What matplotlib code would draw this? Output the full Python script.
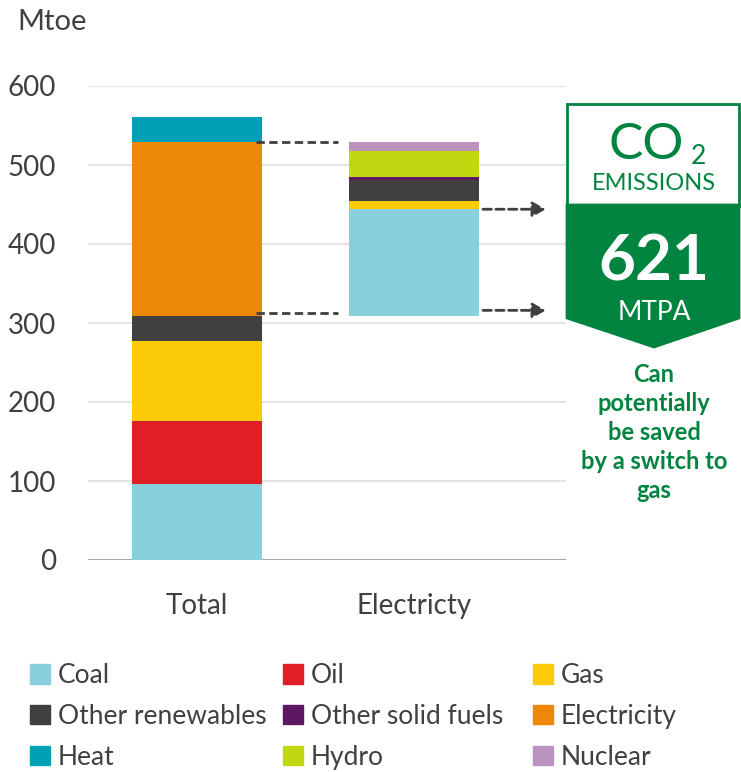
import matplotlib.pyplot as plt
from matplotlib.patches import Patch, Polygon, Rectangle

plt.rcParams['font.family'] = ['Lato', 'DejaVu Sans']

# data (Mtoe)
categories = ["Total", "Electricty"]
fuels = ["Coal", "Oil", "Gas",
         "Other renewables", "Other solid fuels", "Electricity",
         "Heat", "Hydro", "Nuclear"]
total = [96, 80, 101, 32, 0, 220, 32, 0, 0]
electricity = [135, 0, 10, 27, 4, 0, 0, 33, 11]
colors = ["#8acfdc", "#e01e25", "#fbcb07",
          "#404040", "#5e1862", "#ec8805",
          "#019fb5", "#c0d711", "#bb93be"]
co2_saved = 621
co2_lines = ["Can", "potentially", "be saved", "by a switch to", "gas"]

TEXT = "#404040"
GREEN = "#00843f"

W, H = 741, 772
fig = plt.figure(figsize=(W / 100, H / 100), dpi=100)
ax = fig.add_axes([88 / W, 212 / H, 478 / W, 474 / H])

# electricity bar floats on top of the non-electricity part of the total
elec_idx = fuels.index("Electricity")
offset = sum(total[:elec_idx])

x = [0, 1]
bt, be = 0, offset
for name, c, vt, ve in zip(fuels, colors, total, electricity):
    ax.bar(x[0], vt, 0.6, bottom=bt, color=c, zorder=2)
    ax.bar(x[1], ve, 0.6, bottom=be, color=c, zorder=2)
    bt += vt
    be += ve

# dashed connectors and arrows
top = offset + total[elec_idx]
for y in (top, offset + 4):
    ax.plot([0.27, 0.65], [y, y], ls=(0, (3, 1.6)), color=TEXT, lw=2, zorder=3)
for y in (offset + electricity[0], offset + 7):
    ax.annotate("", xy=(1.62, y), xytext=(1.305, y),
                arrowprops=dict(arrowstyle="-|>,head_length=0.8,head_width=0.45",
                                ls=(0, (3, 1.6)), lw=2, color=TEXT),
                zorder=3, annotation_clip=False)

ax.set_xlim(-0.502, 1.70)
ax.set_ylim(0, 600)
ax.set_yticks(range(0, 601, 100))
ax.set_xticks(x)
ax.set_xticklabels(categories)
ax.yaxis.grid(True, color="#e4e4e4", lw=1.5)
ax.set_axisbelow(True)
ax.axhline(0, color="#a8a8a8", lw=1.5, zorder=1)
for s in ax.spines.values():
    s.set_visible(False)
ax.tick_params(length=0, labelsize=20, labelcolor=TEXT)
ax.tick_params(axis="y", pad=23)
ax.tick_params(axis="x", pad=24)

fig.text(17 / W, 1 - 22 / H, "Mtoe", fontsize=21, color=TEXT, va="center")

# legend: three fixed-position columns, row-major order like the original
handles = [Patch(color=c, label=f) for f, c in zip(fuels, colors)]
for col, left in enumerate([30, 283, 533]):
    fig.legend(handles=handles[col::3], ncol=1, loc="upper left",
               bbox_to_anchor=(left / W, 1 - 663 / H), frameon=False,
               fontsize=19, handlelength=0.76, handleheight=0.76,
               handletextpad=0.3, labelspacing=0.6, borderpad=0,
               labelcolor=TEXT, borderaxespad=0)

# CO2 badge drawn in pixel coordinates
bx = fig.add_axes([0, 0, 1, 1], zorder=5)
bx.set_xlim(0, W)
bx.set_ylim(H, 0)
bx.axis("off")
bx.patch.set_alpha(0)
bx.add_patch(Rectangle((567, 104), 172, 102, fc="white", ec=GREEN, lw=2))
bx.add_patch(Polygon([(567, 205), (739, 205), (739, 318), (654, 347), (567, 318)],
                     closed=True, fc=GREEN, ec=GREEN, lw=2))
bx.text(646, 145, "CO", fontsize=37, color=GREEN, ha="center", va="center")
bx.text(698, 156, "2", fontsize=19, color=GREEN, ha="center", va="center")
bx.text(654, 184, "EMISSIONS", fontsize=17, color=GREEN, ha="center", va="center")
bx.text(654, 262, str(co2_saved), fontsize=46, color="white", weight="bold",
        ha="center", va="center")
bx.text(654, 313, "MTPA", fontsize=19, color="white", ha="center", va="center")
for i, line in enumerate(co2_lines):
    bx.text(654, 375 + i * 28.8, line, fontsize=17, color=GREEN, weight="bold",
            ha="center", va="center")

fig.savefig("out.png", dpi=100)
